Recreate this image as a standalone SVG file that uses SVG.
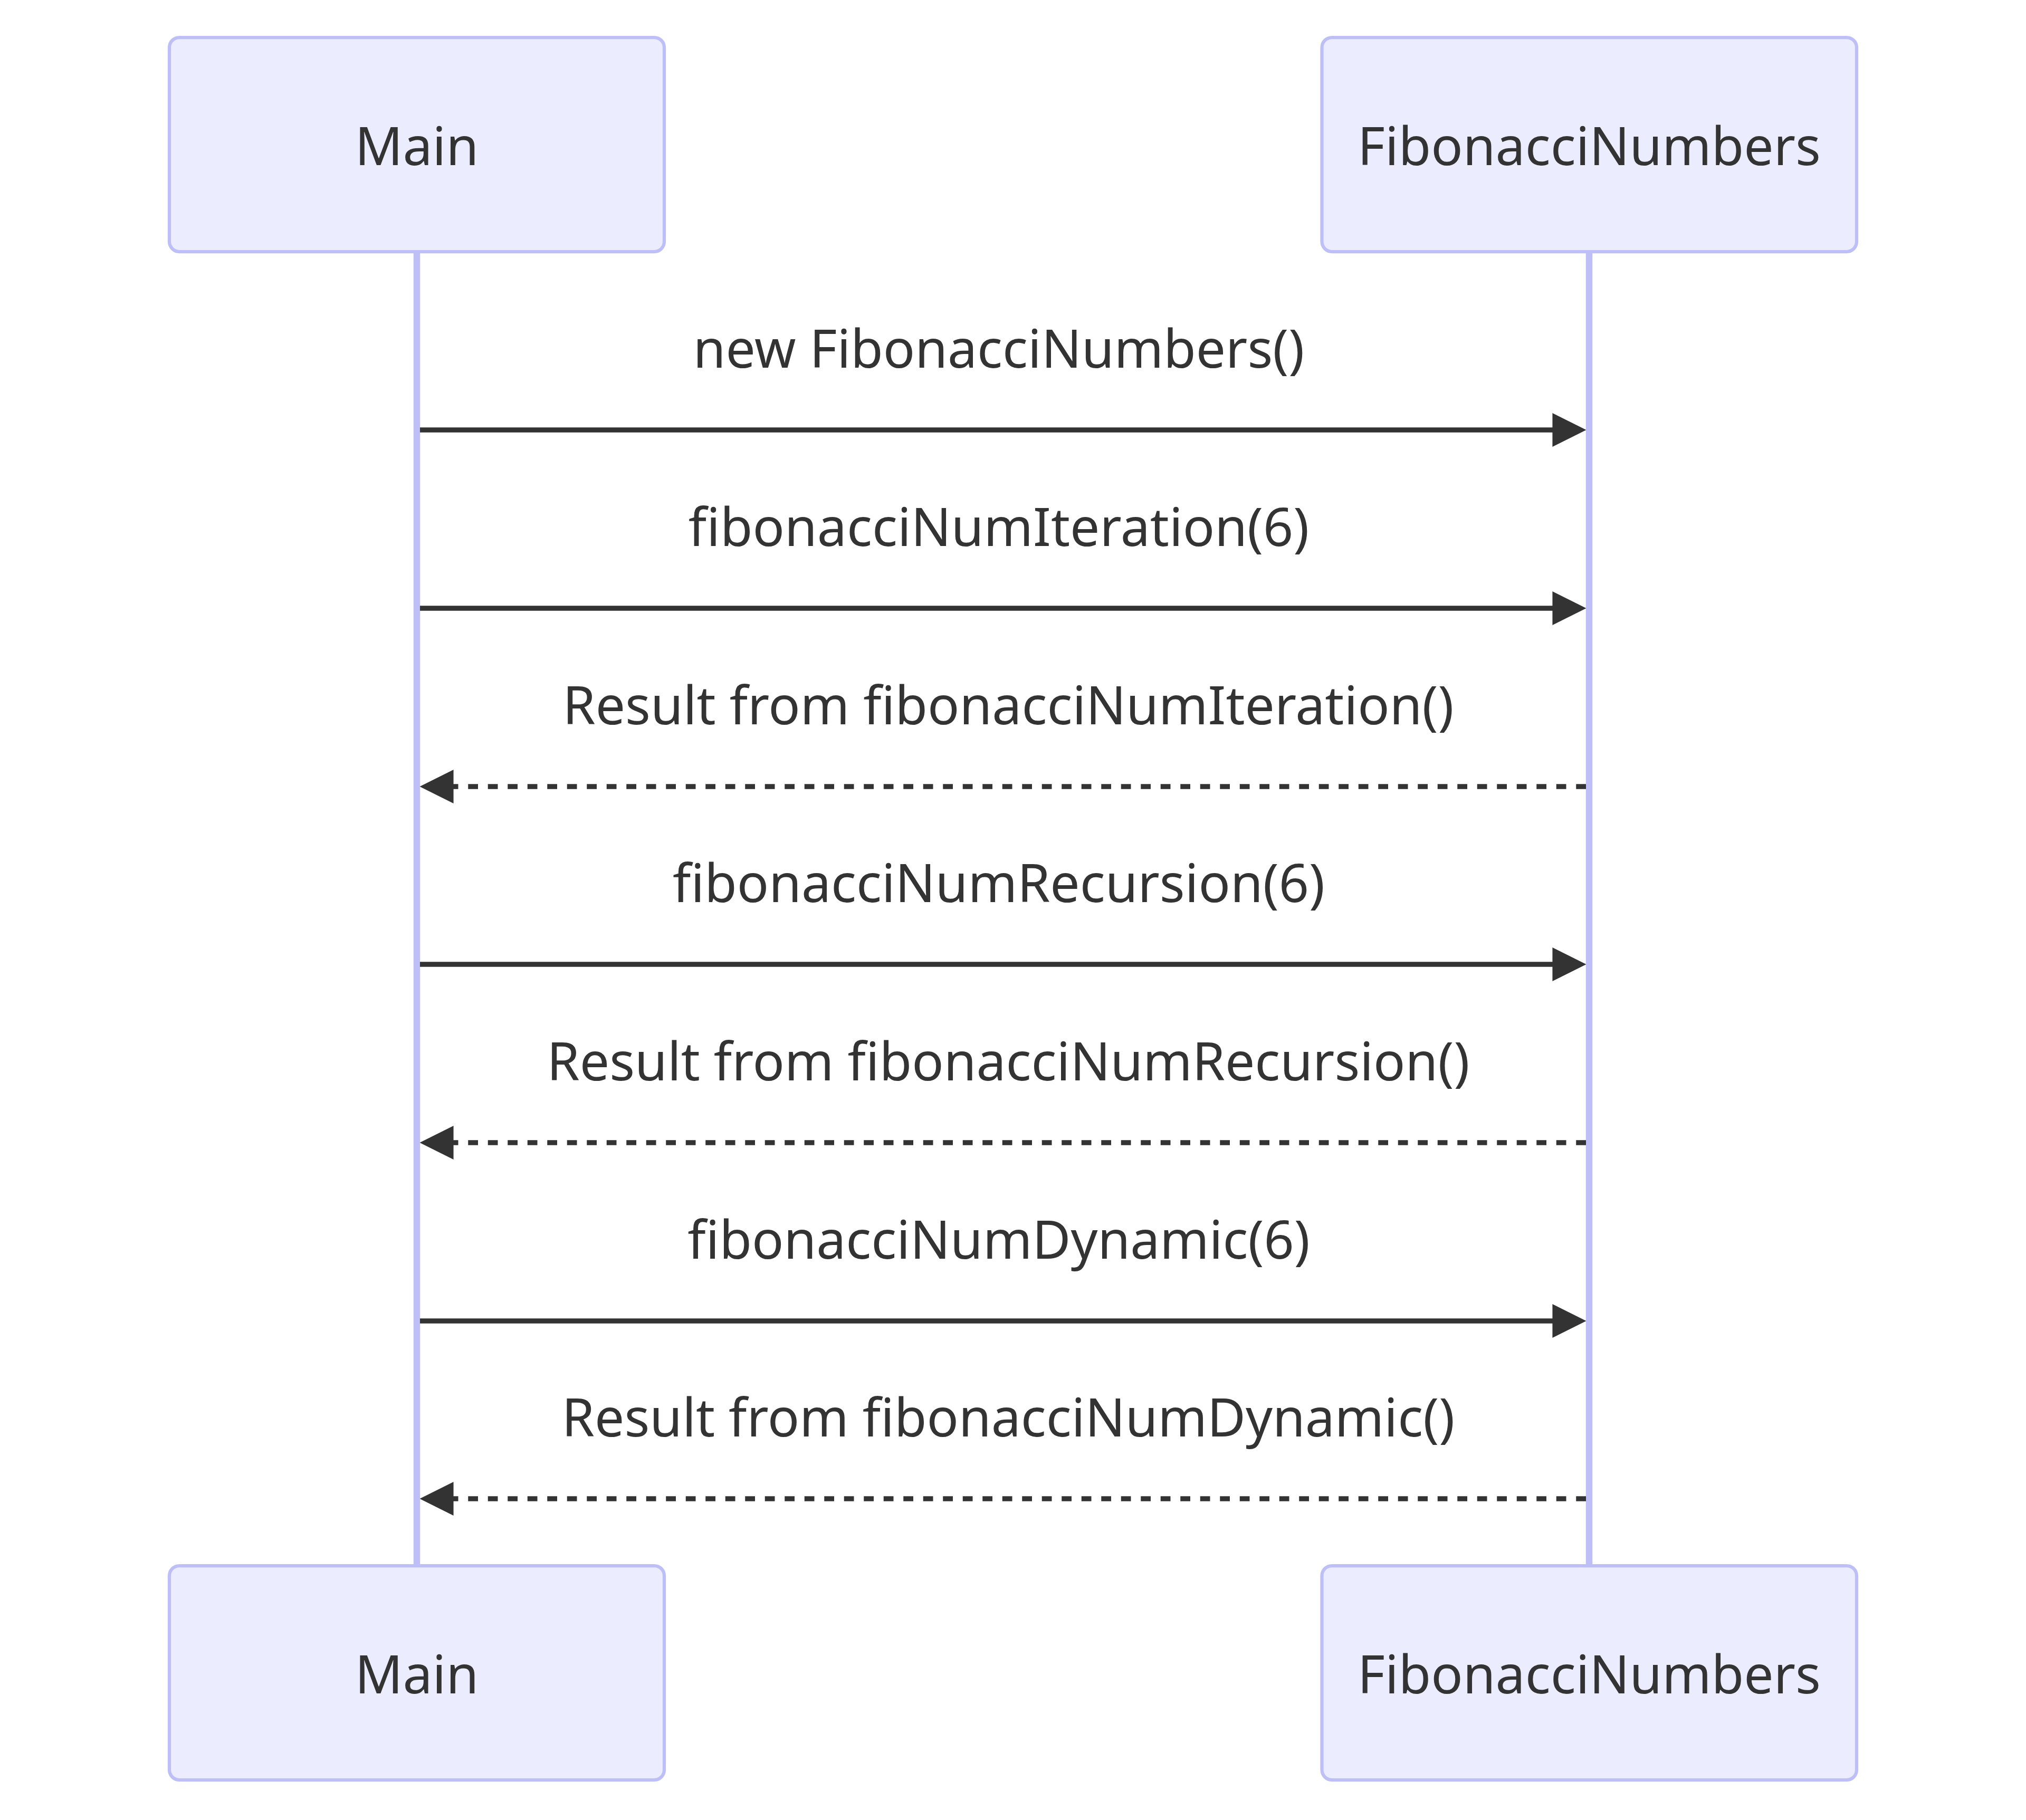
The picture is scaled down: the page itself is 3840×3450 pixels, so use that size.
<svg xmlns="http://www.w3.org/2000/svg" width="3840" height="3450" viewBox="0 0 3840 3450">
<style>
.actor{fill:#ECECFF;stroke:#BFBFF8;stroke-width:6.25}
.life{stroke:#BFBFF8;stroke-width:12.5}
.atext{font-family:"Noto Sans","Open Sans",sans-serif;font-size:100px;fill:#333333;text-anchor:middle}
.msg{stroke:#333333;stroke-width:9.4;fill:none;marker-end:url(#arrow)}
.dash{stroke-dasharray:18.75 18.75}
.mtext{font-family:"Noto Sans","Open Sans",sans-serif;font-size:100px;fill:#333333;text-anchor:middle}
</style>
<defs>
<marker id="arrow" viewBox="0 0 10 10" refX="7.9" refY="5" markerWidth="64" markerHeight="64" markerUnits="userSpaceOnUse" orient="auto">
<path d="M0,0 L10,5 L0,10 z" fill="#333333"/>
</marker>
</defs>
<rect width="3840" height="3450" fill="#ffffff"/>
<g id="lifelines">
<line class="life" x1="790" y1="477" x2="790" y2="2968"/>
<line class="life" x1="3012" y1="477" x2="3012" y2="2968"/>
</g>
<g id="actor-main-top">
<rect class="actor" x="321" y="71" width="938" height="406" rx="19" ry="19"/>
<text class="atext" x="790" y="313">Main</text>
</g>
<g id="actor-fib-top">
<rect class="actor" x="2505.5" y="71" width="1013.5" height="406" rx="19" ry="19"/>
<text class="atext" x="3012" y="313">FibonacciNumbers</text>
</g>
<g id="actor-main-bottom">
<rect class="actor" x="321" y="2968" width="938" height="406" rx="19" ry="19"/>
<text class="atext" x="790" y="3210">Main</text>
</g>
<g id="actor-fib-bottom">
<rect class="actor" x="2505.5" y="2968" width="1013.5" height="406" rx="19" ry="19"/>
<text class="atext" x="3012" y="3210">FibonacciNumbers</text>
</g>
<g id="messages">
<text class="mtext" x="1893" y="697">new FibonacciNumbers()</text>
<line class="msg" x1="796" y1="815" x2="2993" y2="815"/>
<text class="mtext" x="1893" y="1035">fibonacciNumIteration(6)</text>
<line class="msg" x1="796" y1="1153" x2="2993" y2="1153"/>
<text class="mtext" x="1911" y="1373">Result from fibonacciNumIteration()</text>
<line class="msg dash" x1="3006" y1="1491" x2="809" y2="1491"/>
<text class="mtext" x="1893" y="1710">fibonacciNumRecursion(6)</text>
<line class="msg" x1="796" y1="1828" x2="2993" y2="1828"/>
<text class="mtext" x="1911" y="2048">Result from fibonacciNumRecursion()</text>
<line class="msg dash" x1="3006" y1="2166" x2="809" y2="2166"/>
<text class="mtext" x="1893" y="2386">fibonacciNumDynamic(6)</text>
<line class="msg" x1="796" y1="2504" x2="2993" y2="2504"/>
<text class="mtext" x="1911" y="2723">Result from fibonacciNumDynamic()</text>
<line class="msg dash" x1="3006" y1="2841" x2="809" y2="2841"/>
</g>
</svg>
